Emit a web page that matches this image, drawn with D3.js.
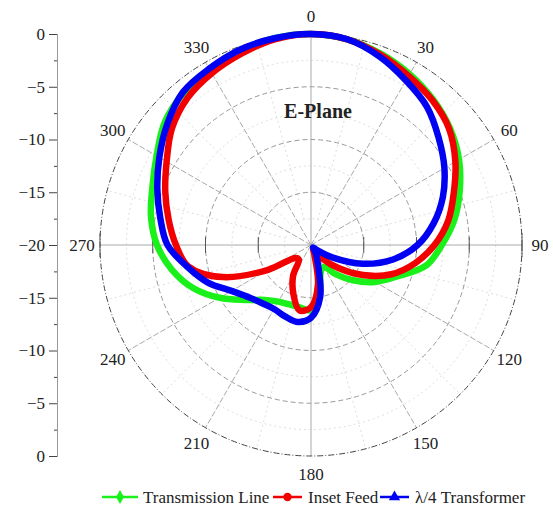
<!DOCTYPE html>
<html>
<head>
<meta charset="utf-8">
<script src="https://cdn.jsdelivr.net/npm/d3@7"></script>
<style>
  body { margin: 0; background: #fff; }
  text { font-family: "Liberation Serif", "DejaVu Serif", serif; fill: #222; }
</style>
</head>
<body>
<svg id="polar" width="553" height="515"></svg>
<script>
// angle in degrees (clockwise from top), gain in dB
var angles = [0, 10, 20, 30, 40, 50, 60, 70, 80, 90, 100, 110, 120, 130, 140, 150, 160, 170,
              180, 190, 200, 210, 220, 230, 240, 250, 260, 270, 280, 290, 300, 310, 320, 330, 340, 350];

var transmissionLine = [0.0, -0.2, -0.7, -1.3, -2.0, -2.8, -3.8, -5.0, -6.2, -7.6, -8.9, -11.3, -13.0, -14.8, -16.4, -17.6, -17.3, -15.3,
                        -13.8, -14.0, -14.0, -13.8, -13.2, -11.9, -10.0, -8.1, -6.6, -5.4, -4.6, -4.0, -3.1, -1.9, -1.2, -0.8, -0.4, -0.1];

var insetFeed = [0.0, -0.2, -0.8, -1.5, -2.1, -2.9, -4.2, -5.6, -6.8, -8.3, -10.0, -11.9, -14.3, -16.6, -18.3, -19.6, -19.1, -16.2,
                 -14.1, -13.7, -15.1, -16.6, -18.2, -18.1, -15.3, -11.1, -8.2, -7.2, -6.3, -5.3, -4.2, -2.8, -1.8, -1.2, -0.7, -0.2];

var quarterWave = [0.0, -0.2, -1.0, -2.0, -2.9, -4.2, -5.4, -6.7, -8.2, -9.9, -12.1, -14.8, -17.6, -19.2, -19.7, -19.1, -18.1, -15.0,
                   -13.1, -12.6, -12.8, -13.0, -12.8, -12.3, -11.3, -9.6, -8.1, -6.4, -5.5, -4.5, -3.4, -2.2, -1.1, -0.7, -0.3, -0.1];

var seriesNames = ["Transmission Line", "Inset Feed", "\u03bb/4 Transformer"];
var seriesColors = ["#1af01a", "#f20000", "#0000f2"];
var angleTicks = [0, 30, 60, 90, 120, 150, 180, 210, 240, 270, 300, 330];
var ringTicks = [-15, -10, -5, 0];

var svg = d3.select("#polar"),
    cx = 311, cy = 245, R = 211;

var r = d3.scaleLinear().domain([-20, 0]).range([0, R]).clamp(true);

var g = svg.append("g").attr("transform", "translate(" + cx + "," + cy + ")");

function pt(a, rad) {
  var t = a * Math.PI / 180;
  return [rad * Math.sin(t), -rad * Math.cos(t)];
}

// minor grid
g.selectAll(".minorRing")
    .data([-17.5, -12.5, -7.5, -2.5])
  .enter().append("circle")
    .attr("r", function(d) { return r(d); })
    .attr("fill", "none")
    .attr("stroke", "#ddd")
    .attr("stroke-dasharray", "2,3");

g.selectAll(".minorSpoke")
    .data(angleTicks.map(function(a) { return a + 15; }))
  .enter().append("line")
    .attr("x1", function(d) { return pt(d, r(-17.5))[0]; })
    .attr("y1", function(d) { return pt(d, r(-17.5))[1]; })
    .attr("x2", function(d) { return pt(d, R)[0]; })
    .attr("y2", function(d) { return pt(d, R)[1]; })
    .attr("stroke", "#ddd")
    .attr("stroke-dasharray", "2,3");

// major grid
g.selectAll(".ring")
    .data([-15, -10, -5])
  .enter().append("circle")
    .attr("r", function(d) { return r(d); })
    .attr("fill", "none")
    .attr("stroke", "#999")
    .attr("stroke-dasharray", "5,3");

g.selectAll(".spoke")
    .data(angleTicks)
  .enter().append("line")
    .attr("x1", 0).attr("y1", 0)
    .attr("x2", function(d) { return pt(d, R)[0]; })
    .attr("y2", function(d) { return pt(d, R)[1]; })
    .attr("stroke", "#aaa")
    .attr("stroke-dasharray", function(d) { return d % 90 == 0 ? null : "6,2"; });

g.append("circle")
    .attr("r", R)
    .attr("fill", "none")
    .attr("stroke", "#444")
    .attr("stroke-dasharray", "6,2,1,2");

// little ticks on the horizontal axis
[1, -1].forEach(function(side) {
  g.selectAll(null)
      .data(ringTicks)
    .enter().append("line")
      .attr("x1", function(d) { return side * r(d); })
      .attr("x2", function(d) { return side * r(d); })
      .attr("y1", function(d) { return d == 0 ? -12 : -8; })
      .attr("y2", function(d) { return d == 0 ? 12 : 8; })
      .attr("stroke", "#555");
});

// angle labels
g.selectAll(".angleLabel")
    .data(angleTicks)
  .enter().append("text")
    .attr("x", function(d) { return pt(d, 229)[0]; })
    .attr("y", function(d) { return pt(d, 229)[1]; })
    .attr("dy", "0.35em")
    .attr("text-anchor", "middle")
    .attr("font-size", "17px")
    .text(function(d) { return d; });

// pattern curves
var line = d3.lineRadial()
    .angle(function(d) { return d[0] * Math.PI / 180; })
    .radius(function(d) { return r(d[1]); })
    .curve(d3.curveCatmullRomClosed.alpha(0.5));

[transmissionLine, insetFeed, quarterWave].forEach(function(vals, i) {
  g.append("path")
      .datum(angles.map(function(a, j) { return [a, vals[j]]; }))
      .attr("d", line)
      .attr("fill", "none")
      .attr("stroke", seriesColors[i])
      .attr("stroke-width", 6.5)
      .attr("stroke-linejoin", "round");
});

g.append("text")
    .attr("x", 7)
    .attr("y", -134)
    .attr("dy", "0.35em")
    .attr("text-anchor", "middle")
    .attr("font-size", "20px")
    .attr("font-weight", "bold")
    .text("E-Plane");

// left radial axis, 0 at top -> -20 at centre -> 0 at bottom
var ys = d3.scaleLinear().domain([0, 40]).range([cy - R, cy + R]);
var axisX = 57;

svg.append("g")
    .attr("transform", "translate(" + axisX + ",0)")
    .call(d3.axisLeft(ys).tickValues([2.5, 7.5, 12.5, 17.5, 22.5, 27.5, 32.5, 37.5]).tickSize(3).tickFormat(""))
    .call(function(a) { a.select(".domain").attr("stroke", "#999"); a.selectAll(".tick line").attr("stroke", "#444"); });

svg.append("g")
    .attr("transform", "translate(" + axisX + ",0)")
    .call(d3.axisLeft(ys).tickValues([0, 5, 10, 15, 20, 25, 30, 35, 40]).tickSize(8).tickPadding(4)
      .tickFormat(function(v) {
        var db = -(20 - Math.abs(v - 20));
        return db == 0 ? "0" : "\u2212" + Math.abs(db);
      }))
    .call(function(a) {
      a.select(".domain").attr("stroke", "#999");
      a.selectAll(".tick line").attr("stroke", "#444");
      a.selectAll(".tick text").attr("font-size", "17px").attr("font-family", "Liberation Serif, serif").attr("fill", "#222");
    });

// legend
var legend = svg.append("g").attr("transform", "translate(0,497)");
var legX = [102, 273, 380];
var symbols = [d3.symbolDiamond, d3.symbolCircle, d3.symbolTriangle];

seriesNames.forEach(function(name, i) {
  var lg = legend.append("g").attr("transform", "translate(" + legX[i] + ",0)");
  lg.append("line")
      .attr("x1", 0).attr("x2", i == 0 ? 36 : 29)
      .attr("stroke", seriesColors[i])
      .attr("stroke-width", 2.5);
  lg.append("path")
      .attr("transform", "translate(" + (i == 0 ? 18 : 14.5) + ",0)")
      .attr("d", d3.symbol().type(symbols[i]).size(55))
      .attr("fill", seriesColors[i]);
  lg.append("text")
      .attr("x", i == 0 ? 41 : 35)
      .attr("dy", "0.35em")
      .attr("font-size", "17px")
      .attr("font-family", "Liberation Serif, serif")
      .text(name);
});
</script>
</body>
</html>
